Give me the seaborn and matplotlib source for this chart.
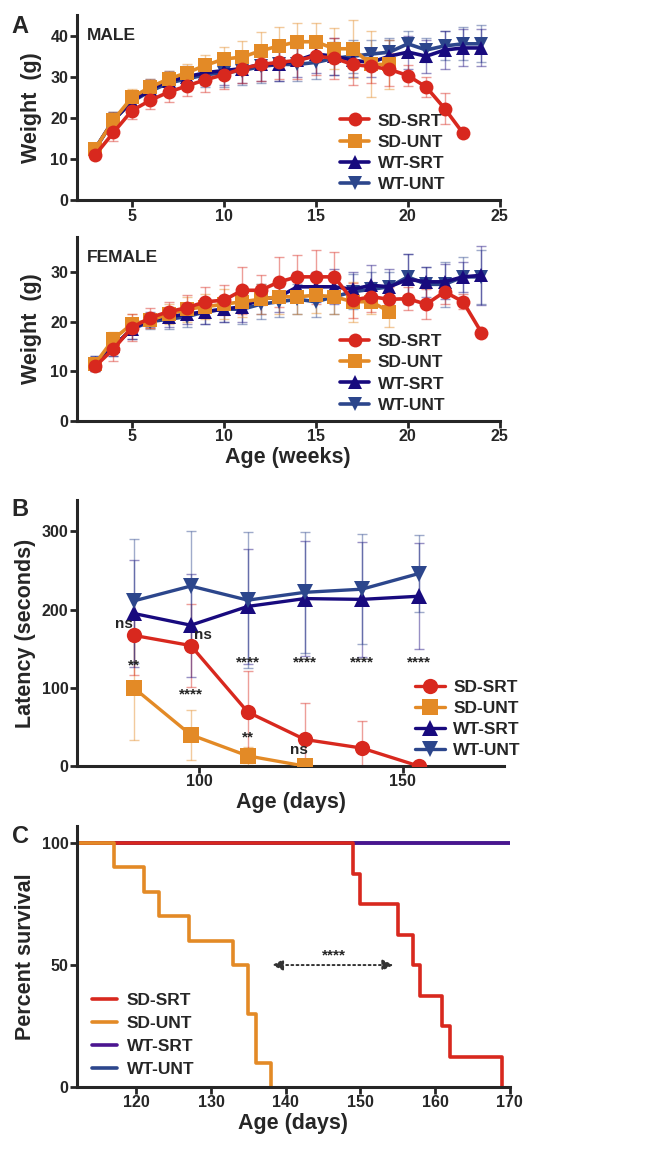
import numpy as np
import pandas as pd
import matplotlib
matplotlib.use("Agg")
import matplotlib.pyplot as plt
import seaborn as sns

sns.set_style("ticks")
plt.rcParams['font.family'] = ['Liberation Sans', 'DejaVu Sans']
plt.rcParams['font.weight'] = 'bold'
plt.rcParams['axes.labelweight'] = 'bold'

# --- data ---
groups = ['SD-SRT', 'SD-UNT', 'WT-SRT', 'WT-UNT']
colors = {'SD-SRT': '#D8281E', 'SD-UNT': '#E38A26', 'WT-SRT': '#180A7E', 'WT-UNT': '#2C468C'}
markers = {'SD-SRT': 'o', 'SD-UNT': 's', 'WT-SRT': '^', 'WT-UNT': 'v'}

# weight, male (weeks 3..)
male_sd_srt = [11, 16.5, 21.8, 24.3, 26.3, 27.8, 29.3, 30.5, 32, 33, 33.5, 34, 35, 34.5, 33, 32.5, 31.8, 30.3, 27.5, 22.3, 16.3]
male_sd_unt = [12.5, 19.5, 25, 27.5, 29.5, 31, 32.8, 34.3, 34.8, 36.3, 37.5, 38.5, 38.5, 36.8, 36.8, 33, 33]
male_wt_srt = [12.5, 19.5, 24, 27, 29, 30, 31, 31.5, 32, 33, 33, 34, 35.5, 35, 34, 33.5, 35, 36, 35, 36.5, 37, 37]
male_wt_unt = [12.5, 19.5, 24, 26.5, 28.5, 29.5, 30.5, 31, 31.5, 32.5, 33, 33, 33.5, 34.5, 35, 35.5, 36, 38, 36.5, 37.5, 38, 38]
male_sd_srt_err = [1, 2, 2, 2, 2.5, 2.5, 3, 3.5, 3.5, 4, 4, 4.5, 4.5, 5, 5, 4, 4, 2.5, 2.5, 3.7, 0]
male_sd_unt_err = [1.5, 2, 2, 2, 2, 2, 2.5, 3, 4, 4.5, 4.5, 4.5, 4.5, 5, 7, 8, 6]
male_wt_srt_err = [1.5, 2, 2.5, 2.5, 2.5, 2.5, 3, 3.5, 3.5, 4, 4, 4, 4.5, 4.5, 4, 3.5, 4, 4, 4, 4.5, 4.5, 4.5]
male_wt_unt_err = [1.5, 2, 2.5, 2.5, 2.5, 2.5, 3, 3.5, 3.5, 4, 4, 4, 4, 4, 4, 3.5, 3.5, 3, 3, 3.5, 4, 4.5]

# weight, female (weeks 3..)
female_sd_srt = [11, 14.5, 18.8, 20.8, 22, 22.8, 24, 24.3, 26.3, 26.3, 28, 29, 29, 29, 24.3, 25, 24.5, 24.6, 23.5, 26, 24, 17.8]
female_sd_unt = [11.5, 16.5, 19.5, 20.3, 21.5, 22.5, 23, 23.5, 24, 24.5, 25, 25, 25.3, 25, 24, 24, 22]
female_wt_srt = [11.5, 15, 18.5, 20.5, 21, 21.5, 22, 22.5, 23, 24.5, 25, 27, 27, 27, 26.5, 27.3, 27, 28.5, 28, 28, 29, 29.3]
female_wt_unt = [11.5, 15, 18.5, 20, 20.5, 21, 22, 22.5, 22.5, 23.5, 24, 24.5, 24, 25, 26, 26.5, 27, 29, 27.5, 27.5, 29, 29]
female_sd_srt_err = [1, 2.5, 2.8, 2, 2, 2.5, 3, 3, 4.7, 3, 5, 4.3, 5.5, 5, 3.5, 3, 2.5, 2.3, 3, 2.5, 1.5, 0]
female_sd_unt_err = [1, 1.5, 2, 1.5, 2, 2.5, 2.5, 3, 3, 3, 3.5, 3.5, 3.5, 3.5, 4, 2.5, 3]
female_wt_srt_err = [1.5, 2, 2, 1.5, 2, 2, 2.5, 2.5, 3, 3, 3, 3, 3, 3.5, 3.5, 4, 3.5, 5, 3, 3.5, 3, 6]
female_wt_unt_err = [1.5, 2, 2, 1.5, 2, 2, 2.5, 2.5, 3, 3, 3, 3, 3, 3.5, 3.5, 3.5, 3, 4.5, 3.5, 4.5, 4, 5.5]

# latency (rotarod)
lat_days = [84, 98, 112, 126, 140, 154]
lat_sd_srt = [167, 154, 69, 34, 23, 0]
lat_sd_unt = [100, 40, 13, 0]
lat_wt_srt = [195, 180, 204, 214, 213, 217]
lat_wt_unt = [211, 230, 212, 222, 226, 246]
lat_sd_srt_err = [50, 53, 53, 47, 35, 0]
lat_sd_unt_err = [67, 32, 12, 0]
lat_wt_srt_err = [68, 66, 73, 73, 73, 68]
lat_wt_unt_err = [79, 70, 87, 77, 70, 49]
lat_marks = ['ns', '**', 'ns', '****', '****', '**', '****', 'ns', '****', '****']
lat_marks_x = [81.5, 84, 101, 98, 112, 112, 126, 124.5, 140, 154]
lat_marks_y = [181, 129, 167, 91, 132, 36, 132, 20, 132, 132]

# survival
surv_sd_srt_t = [112, 149, 150, 155, 157, 158, 161, 162, 169]
surv_sd_srt = [100, 87.5, 75, 62.5, 50, 37.5, 25, 12.5, 0]
surv_sd_unt_t = [112, 117, 121, 123, 127, 133, 135, 136, 138]
surv_sd_unt = [100, 90, 80, 70, 60, 50, 30, 10, 0]
surv_wt_srt_t = [112, 170]
surv_wt_srt = [100, 100]
surv_wt_unt_t = [112, 170]
surv_wt_unt = [100, 100]
surv_colors = {'SD-SRT': '#D8281E', 'SD-UNT': '#E38A26', 'WT-SRT': '#4B1590', 'WT-UNT': '#2C468C'}

fig = plt.figure(figsize=(6.5, 11.52), dpi=100)
ax_m = fig.add_axes([0.118, 0.826, 0.651, 0.161])
ax_f = fig.add_axes([0.118, 0.6345, 0.651, 0.1597])
ax_b = fig.add_axes([0.118, 0.335, 0.658, 0.231])
ax_c = fig.add_axes([0.118, 0.0564, 0.666, 0.2266])


def style_axis(ax):
    sns.despine(ax=ax)
    for s in ['left', 'bottom']:
        ax.spines[s].set_linewidth(2.2)
    ax.tick_params(width=2, length=5, labelsize=11.5, pad=1)
    for lab in ax.get_xticklabels() + ax.get_yticklabels():
        lab.set_fontweight('bold')


def draw_series(ax, x, y, err, g, ms=10, lw=2.6):
    df = pd.DataFrame({'x': x, 'y': y})
    ax.errorbar(x, y, yerr=err, fmt='none', ecolor=colors[g], alpha=0.45,
                elinewidth=1.0, capsize=3.5, capthick=1.0, zorder=1)
    sns.lineplot(data=df, x='x', y='y', ax=ax, color=colors[g], marker=markers[g],
                 markersize=ms, markeredgewidth=0, linewidth=lw, label=g,
                 estimator=None, zorder=3)


def weight_panel(ax, series, title, ymax, yticks):
    for g in ['WT-UNT', 'WT-SRT', 'SD-UNT', 'SD-SRT']:
        y, e = series[g]
        weeks = list(range(3, 3 + len(y)))
        draw_series(ax, weeks, y, e, g)
    ax.set_xlim(2, 25)
    ax.set_ylim(0, ymax)
    ax.set_xticks([5, 10, 15, 20, 25])
    ax.set_yticks(yticks)
    ax.set_xlabel('')
    ax.set_ylabel('Weight  (g)', fontsize=15.5, fontweight='bold', labelpad=6)
    ax.text(0.025, 0.93, title, transform=ax.transAxes, fontsize=12.5, fontweight='bold', va='top')
    h, l = ax.get_legend_handles_labels()
    order = [l.index(g) for g in groups]
    ax.legend([h[i] for i in order], groups, loc='lower left', bbox_to_anchor=(0.585, -0.04),
              frameon=False, handlelength=1.7, handletextpad=0.5,
              labelspacing=0.35, prop={'weight': 'bold', 'size': 12.5})
    style_axis(ax)


weight_panel(ax_m, {'SD-SRT': (male_sd_srt, male_sd_srt_err), 'SD-UNT': (male_sd_unt, male_sd_unt_err),
                    'WT-SRT': (male_wt_srt, male_wt_srt_err), 'WT-UNT': (male_wt_unt, male_wt_unt_err)},
             'MALE', 45, [0, 10, 20, 30, 40])
weight_panel(ax_f, {'SD-SRT': (female_sd_srt, female_sd_srt_err), 'SD-UNT': (female_sd_unt, female_sd_unt_err),
                    'WT-SRT': (female_wt_srt, female_wt_srt_err), 'WT-UNT': (female_wt_unt, female_wt_unt_err)},
             'FEMALE', 37, [0, 10, 20, 30])
ax_f.set_xlabel('Age (weeks)', fontsize=15.5, fontweight='bold', labelpad=2)

# --- B: latency ---
lat = {'SD-SRT': (lat_days, lat_sd_srt, lat_sd_srt_err),
       'SD-UNT': (lat_days[:len(lat_sd_unt)], lat_sd_unt, lat_sd_unt_err),
       'WT-SRT': (lat_days, lat_wt_srt, lat_wt_srt_err),
       'WT-UNT': (lat_days, lat_wt_unt, lat_wt_unt_err)}
for g in ['SD-UNT', 'SD-SRT', 'WT-SRT', 'WT-UNT']:
    x, y, e = lat[g]
    draw_series(ax_b, x, y, e, g, ms=11, lw=2.4)
for t, x, y in zip(lat_marks, lat_marks_x, lat_marks_y):
    ax_b.text(x, y, t, ha='center', va='center', fontsize=11, fontweight='bold')
ax_b.set_xlim(70, 175)
ax_b.set_ylim(0, 340)
ax_b.set_xticks([100, 150])
ax_b.set_yticks([0, 100, 200, 300])
ax_b.set_xlabel('Age (days)', fontsize=15.5, fontweight='bold', labelpad=2)
ax_b.set_ylabel('Latency (seconds)', fontsize=15.5, fontweight='bold', labelpad=4)
h, l = ax_b.get_legend_handles_labels()
order = [l.index(g) for g in groups]
ax_b.legend([h[i] for i in order], groups, loc='lower left', bbox_to_anchor=(0.755, -0.03),
            frameon=False, handlelength=1.7, handletextpad=0.5, labelspacing=0.35,
            prop={'weight': 'bold', 'size': 12.5})
style_axis(ax_b)

# --- C: survival ---
surv = {'WT-UNT': (surv_wt_unt_t, surv_wt_unt), 'WT-SRT': (surv_wt_srt_t, surv_wt_srt),
        'SD-SRT': (surv_sd_srt_t, surv_sd_srt), 'SD-UNT': (surv_sd_unt_t, surv_sd_unt)}
for g in ['WT-UNT', 'WT-SRT', 'SD-SRT', 'SD-UNT']:
    t, s = surv[g]
    df = pd.DataFrame({'t': t, 's': s})
    sns.lineplot(data=df, x='t', y='s', ax=ax_c, color=surv_colors[g], linewidth=2.6,
                 drawstyle='steps-post', estimator=None, label=g)
ax_c.annotate('', xy=(137.8, 50), xytext=(154.8, 50),
              arrowprops=dict(arrowstyle='<|-|>', linestyle=':', color='#333333', lw=1.4,
                              mutation_scale=16))
ax_c.text(146.5, 54, '****', ha='center', va='center', fontsize=11, fontweight='bold')
ax_c.set_xlim(112, 170)
ax_c.set_ylim(0, 107)
ax_c.set_xticks([120, 130, 140, 150, 160, 170])
ax_c.set_yticks([0, 50, 100])
ax_c.set_xlabel('Age (days)', fontsize=15.5, fontweight='bold', labelpad=2)
ax_c.set_ylabel('Percent survival', fontsize=15.5, fontweight='bold', labelpad=4)
h, l = ax_c.get_legend_handles_labels()
order = [l.index(g) for g in groups]
ax_c.legend([h[i] for i in order], groups, loc='lower left', bbox_to_anchor=(0.0, -0.02),
            frameon=False, handlelength=1.4, handletextpad=0.6, labelspacing=0.45,
            prop={'weight': 'bold', 'size': 12.5})
style_axis(ax_c)

for letter, y in [('A', 0.987), ('B', 0.568), ('C', 0.284)]:
    fig.text(0.018, y, letter, fontsize=17, fontweight='bold', va='top')

fig.savefig('out.png', dpi=100)
